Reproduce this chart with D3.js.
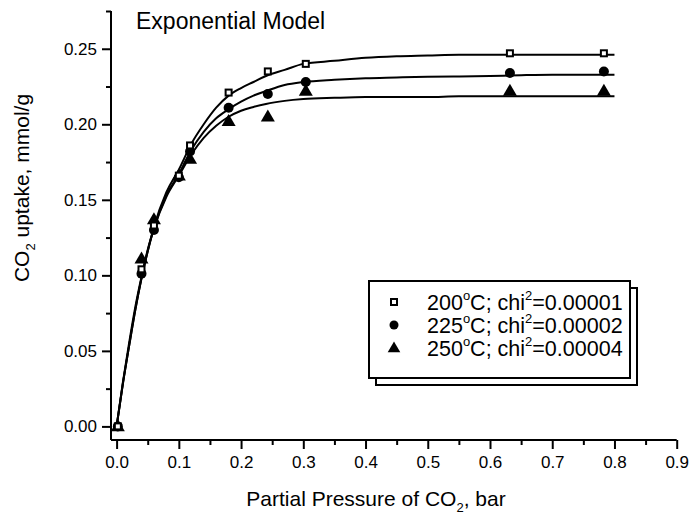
<!DOCTYPE html>
<html>
<head>
<meta charset="utf-8">
<script src="https://cdn.jsdelivr.net/npm/d3@7"></script>
<style>
  html, body { margin: 0; padding: 0; background: #fff; }
  svg { display: block; }
  text { font-family: "Liberation Sans", Arial, sans-serif; fill: #000; }
</style>
</head>
<body>
<svg id="chart" width="691" height="519"></svg>
<script>
// ---- data ----
const pressure = [0.002, 0.040, 0.060, 0.100, 0.118, 0.180, 0.243, 0.304, 0.632, 0.783];
const uptake200 = [0.000, 0.104, 0.133, 0.166, 0.186, 0.221, 0.235, 0.240, 0.247, 0.247];
const uptake225 = [0.000, 0.101, 0.130, 0.165, 0.182, 0.211, 0.220, 0.228, 0.234, 0.235];
const uptake250 = [0.000, 0.111, 0.137, 0.166, 0.177, 0.202, 0.205, 0.222, 0.222, 0.222];

// fitted curves
const fitX = [0, 0.01, 0.02, 0.03, 0.04, 0.05, 0.06, 0.08, 0.10, 0.12, 0.14, 0.16, 0.18, 0.20, 0.22, 0.24, 0.27, 0.30, 0.35, 0.40, 0.45, 0.50, 0.55, 0.60, 0.65, 0.70, 0.75, 0.80];
const fit200 = [0, 0.028, 0.053, 0.077, 0.098, 0.116, 0.132, 0.155, 0.170, 0.187, 0.200, 0.211, 0.219, 0.224, 0.228, 0.232, 0.236, 0.240, 0.242, 0.244, 0.245, 0.2455, 0.246, 0.246, 0.246, 0.246, 0.246, 0.246];
const fit225 = [0, 0.028, 0.053, 0.077, 0.098, 0.116, 0.131, 0.153, 0.167, 0.183, 0.195, 0.204, 0.210, 0.215, 0.219, 0.222, 0.226, 0.228, 0.2295, 0.2305, 0.231, 0.2315, 0.2317, 0.232, 0.2325, 0.2328, 0.2328, 0.2328];
const fit250 = [0, 0.029, 0.055, 0.079, 0.099, 0.117, 0.131, 0.152, 0.166, 0.180, 0.191, 0.199, 0.205, 0.209, 0.2115, 0.2135, 0.2155, 0.2167, 0.2175, 0.218, 0.218, 0.218, 0.2185, 0.2185, 0.2185, 0.2185, 0.2185, 0.2185];

const xMajor = [0, 0.1, 0.2, 0.3, 0.4, 0.5, 0.6, 0.7, 0.8, 0.9];
const xMinor = [0.05, 0.15, 0.25, 0.35, 0.45, 0.55, 0.65, 0.75, 0.85];
const yMajor = [0, 0.05, 0.10, 0.15, 0.20, 0.25];
const yMinor = [0.025, 0.075, 0.125, 0.175, 0.225, 0.275];

const legendLabels = [
  {t: "200", chi: "0.00001", sym: "square"},
  {t: "225", chi: "0.00002", sym: "circle"},
  {t: "250", chi: "0.00004", sym: "triangle"}
];

// ---- drawing ----
const svg = d3.select("#chart");
const x = d3.scaleLinear().domain([-0.009, 0.9]).range([111, 676.7]);
const y = d3.scaleLinear().domain([-0.009, 0.275]).range([440, 11]);

const FONT = 17;

// axes
const gx = svg.append("g").attr("transform", "translate(0,440)");
gx.call(d3.axisBottom(x).tickValues(xMajor).tickSize(9).tickSizeOuter(0).tickPadding(7).tickFormat(d3.format(".1f")));
const gxm = svg.append("g").attr("transform", "translate(0,440)");
gxm.call(d3.axisBottom(x).tickValues(xMinor).tickSize(5).tickSizeOuter(0).tickFormat(""));
gxm.select(".domain").remove();

const gy = svg.append("g").attr("transform", "translate(111,0)");
gy.call(d3.axisLeft(y).tickValues(yMajor).tickSize(9).tickSizeOuter(0).tickPadding(5).tickFormat(d3.format(".2f")));
const gym = svg.append("g").attr("transform", "translate(111,0)");
gym.call(d3.axisLeft(y).tickValues(yMinor).tickSize(5).tickSizeOuter(0).tickFormat(""));
gym.select(".domain").remove();

svg.selectAll(".domain, .tick line").attr("stroke", "#000").attr("stroke-width", 2);
svg.selectAll(".tick text").attr("font-size", FONT).attr("font-family", "Liberation Sans, Arial, sans-serif").attr("fill", "#000");
gx.select(".domain").attr("d", `M${x(-0.009)},0H${x(0.9)}`);
gy.select(".domain").attr("d", `M0,${y(-0.009)}V${y(0.275)}`);

// fitted curves
const line = d3.line().x(d => x(d[0])).y(d => y(d[1])).curve(d3.curveMonotoneX);
[fit200, fit225, fit250].forEach(arr => {
  svg.append("path")
    .attr("d", line(fitX.map((v, i) => [v, arr[i]])))
    .attr("fill", "none").attr("stroke", "#000").attr("stroke-width", 2);
});

// markers
function drawSym(g, type, cx, cy, scale) {
  scale = scale || 1;
  if (type === "square") {
    const s = 6 * scale;
    g.append("rect").attr("x", cx - s/2).attr("y", cy - s/2).attr("width", s).attr("height", s)
      .attr("fill", "#fff").attr("stroke", "#000").attr("stroke-width", 2);
  } else if (type === "circle") {
    g.append("circle").attr("cx", cx).attr("cy", cy).attr("r", 5 * scale).attr("fill", "#000");
  } else {
    const w = 14 * scale, h = 12 * scale;
    g.append("path").attr("d", `M${cx},${cy - h*0.6}L${cx + w/2},${cy + h*0.4}L${cx - w/2},${cy + h*0.4}Z`).attr("fill", "#000");
  }
}
const gm = svg.append("g");
pressure.forEach((p, i) => drawSym(gm, "triangle", x(p), y(uptake250[i])));
pressure.forEach((p, i) => drawSym(gm, "circle", x(p), y(uptake225[i])));
pressure.forEach((p, i) => drawSym(gm, "square", x(p), y(uptake200[i])));

// title
svg.append("text").attr("x", 136).attr("y", 29).attr("font-size", 23).text("Exponential Model");

// axis titles
const xt = svg.append("text").attr("x", 376).attr("y", 506).attr("text-anchor", "middle").attr("font-size", 21);
xt.append("tspan").text("Partial Pressure of CO");
xt.append("tspan").attr("font-size", 13).attr("dy", 6).text("2");
xt.append("tspan").attr("dy", -6).text(", bar");

const yt = svg.append("text").attr("transform", "translate(29,188) rotate(-90)").attr("text-anchor", "middle").attr("font-size", 21);
yt.append("tspan").text("CO");
yt.append("tspan").attr("font-size", 13).attr("dy", 6).text("2");
yt.append("tspan").attr("dy", -6).text(" uptake, mmol/g");

// legend
const lg = svg.append("g");
lg.append("rect").attr("x", 376).attr("y", 288).attr("width", 261).attr("height", 97)
  .attr("fill", "#fff").attr("stroke", "#000").attr("stroke-width", 2);
lg.append("rect").attr("x", 369).attr("y", 281).attr("width", 261).attr("height", 97)
  .attr("fill", "#fff").attr("stroke", "#000").attr("stroke-width", 2);
legendLabels.forEach((d, i) => {
  const cy = 302 + i * 23;
  drawSym(lg, d.sym, 394, cy, d.sym === "triangle" ? 0.9 : (d.sym === "circle" ? 0.9 : 1));
  const t = lg.append("text").attr("x", 427).attr("y", cy + 8).attr("font-size", 21.5);
  t.append("tspan").text(d.t);
  t.append("tspan").attr("font-size", 13).attr("dy", -10).text("o");
  t.append("tspan").attr("dy", 10).text("C; chi");
  t.append("tspan").attr("font-size", 13).attr("dy", -10).text("2");
  t.append("tspan").attr("dy", 10).text("=" + d.chi);
});
</script>
</body>
</html>
